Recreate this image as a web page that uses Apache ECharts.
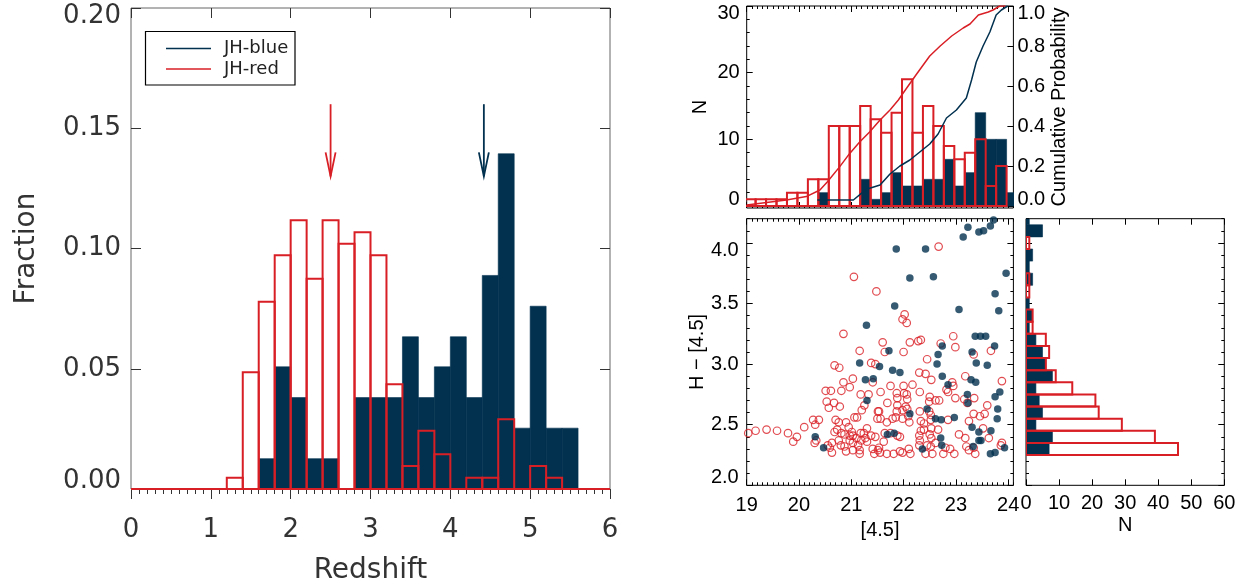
<!DOCTYPE html>
<html lang="en">
<head>
<meta charset="utf-8">
<title>JH-blue / JH-red: redshift, [4.5] and H-[4.5] distributions</title>
<script src="https://cdn.jsdelivr.net/npm/echarts@6.0.0/dist/echarts.min.js"></script>
<style>
  html, body { margin: 0; padding: 0; background: #fff; }
  #main { width: 1243px; height: 585px; }
</style>
</head>
<body>
<div id="main"></div>
<script>
// ---------- data ----------

// left panel: redshift histograms (left edge of each 0.2 bin, fraction in the bin)
var zEdges = [1.2, 1.4, 1.6, 1.8, 2.0, 2.2, 2.4, 2.6, 2.8, 3.0, 3.2, 3.4, 3.6, 3.8, 4.0, 4.2, 4.4, 4.6, 4.8, 5.0, 5.2, 5.4];
var zFracRed = [0.0047, 0.0485, 0.0779, 0.0972, 0.1117, 0.0874, 0.1117, 0.1020, 0.1068, 0.0972, 0.0436,
                0.0096, 0.0242, 0.0144, 0, 0.0047, 0.0047, 0.0290, 0, 0.0096, 0.0047, 0];
var zFracBlue = [0, 0, 0.0126, 0.0508, 0.0380, 0.0126, 0.0126, 0, 0.0380, 0.0380, 0.0380,
                 0.0633, 0.0380, 0.0508, 0.0633, 0.0380, 0.0888, 0.1394, 0.0253, 0.0760, 0.0253, 0.0253];
// median redshift arrows: [redshift, from, to]
var arrowRed = [2.5, 0.16, 0.13];
var arrowBlue = [4.42, 0.16, 0.13];

// top right: [4.5] histograms (left edge of each 0.2 mag bin, counts)
var magEdges = [18.97, 19.17, 19.37, 19.57, 19.77, 19.97, 20.17, 20.37, 20.57, 20.77, 20.97, 21.17, 21.37,
                21.57, 21.77, 21.97, 22.17, 22.37, 22.57, 22.77, 22.97, 23.17, 23.37, 23.57, 23.77, 23.97];
var magRed  = [1, 1, 1, 1, 2, 2, 4, 4, 12, 12, 12, 15, 13, 11, 14, 19, 11, 15, 12, 9, 7, 8, 10, 3, 6, 0];
var magBlue = [0, 0, 0, 0, 0, 0, 0, 2, 0, 0, 0, 4, 1, 2, 5, 3, 3, 4, 4, 7, 3, 5, 14, 10, 10, 2];
// cumulative probability curves
var cumRed = [[19.0, 0.005], [19.76, 0.03], [20.14, 0.047], [20.40, 0.08], [20.54, 0.12], [20.78, 0.197],
              [20.97, 0.263], [21.16, 0.32], [21.35, 0.37], [21.55, 0.43], [21.74, 0.48], [21.90, 0.53],
              [22.06, 0.59], [22.25, 0.66], [22.50, 0.75], [22.70, 0.80], [22.92, 0.85], [23.14, 0.89],
              [23.27, 0.91], [23.43, 0.955], [23.62, 0.97], [23.71, 0.98], [23.84, 1.0], [23.95, 1.0]];
var cumBlue = [[20.35, 0.03], [21.04, 0.03], [21.29, 0.084], [21.55, 0.105], [21.74, 0.16], [21.93, 0.20],
               [22.12, 0.23], [22.31, 0.27], [22.50, 0.31], [22.66, 0.36], [22.82, 0.44], [23.01, 0.48],
               [23.20, 0.54], [23.30, 0.63], [23.39, 0.72], [23.52, 0.80], [23.65, 0.87], [23.77, 0.955],
               [23.87, 0.98], [23.99, 1.0]];

// scatter: [[4.5], H-[4.5]]
var pointsRed = [
  [21.05, 3.72], [21.48, 3.60], [20.85, 3.25], [21.16, 3.11],
  [22.67, 3.97], [22.02, 3.41], [21.98, 3.37], [22.06, 3.34], [21.60, 3.18], [22.12, 3.18], [22.28, 3.19],
  [22.33, 3.20], [22.71, 3.17], [22.95, 3.23], [22.99, 3.14], [22.00, 3.10], [21.64, 3.10], [23.67, 3.11],
  [23.34, 3.08],
  [20.68, 2.99], [20.77, 2.97], [21.38, 3.01], [21.46, 3.00], [20.85, 2.85], [21.03, 2.88], [21.41, 2.85],
  [20.97, 2.81], [20.81, 2.78], [20.51, 2.78], [20.61, 2.78], [21.18, 2.75], [21.33, 2.75], [20.53, 2.69],
  [20.67, 2.68], [20.57, 2.64], [20.78, 2.65], [21.25, 2.66], [21.20, 2.62], [21.51, 2.61], [21.11, 2.56],
  [21.50, 2.55], [20.27, 2.54], [20.38, 2.54], [20.70, 2.54], [20.76, 2.52], [20.90, 2.52], [20.31, 2.50],
  [21.06, 2.56], [20.10, 2.48], [19.03, 2.43], [19.17, 2.45], [19.38, 2.46], [19.58, 2.45], [19.79, 2.43],
  [19.96, 2.40], [19.89, 2.36], [20.68, 2.44], [20.73, 2.46], [20.81, 2.43], [20.87, 2.42], [20.95, 2.48],
  [21.01, 2.44], [20.97, 2.41], [21.03, 2.41], [21.18, 2.43], [21.24, 2.43], [21.30, 2.47], [21.38, 2.41],
  [21.46, 2.40], [21.10, 2.39], [21.19, 2.37], [21.27, 2.39], [21.30, 2.36], [20.30, 2.35], [20.33, 2.37],
  [20.55, 2.33], [20.63, 2.35], [20.76, 2.37], [20.59, 2.31], [20.80, 2.33], [20.87, 2.32], [21.03, 2.35],
  [21.13, 2.33], [20.90, 2.28], [21.03, 2.29], [21.16, 2.29], [21.16, 2.26], [20.63, 2.27], [21.41, 2.30],
  [21.44, 2.26], [21.51, 2.29], [20.97, 2.37],
  [22.45, 3.04], [22.30, 2.93], [22.42, 2.92], [22.53, 2.87], [23.18, 2.90], [23.88, 2.86], [21.75, 2.82],
  [22.00, 2.82], [22.17, 2.83], [22.93, 2.85], [22.95, 2.82], [22.82, 2.79], [22.85, 2.77], [21.56, 2.77],
  [21.87, 2.76], [22.01, 2.76], [22.06, 2.75], [22.31, 2.77], [21.88, 2.72], [22.07, 2.71], [22.50, 2.73],
  [22.49, 2.69], [22.61, 2.70], [22.68, 2.70], [22.99, 2.72], [23.16, 2.71], [23.22, 2.68], [23.35, 2.72],
  [23.60, 2.66], [21.69, 2.68], [21.88, 2.66], [22.04, 2.65], [22.07, 2.63], [21.53, 2.61], [21.87, 2.61],
  [21.98, 2.62], [22.31, 2.61], [22.49, 2.61], [22.52, 2.58], [21.56, 2.55], [21.68, 2.52], [21.79, 2.55],
  [21.85, 2.56], [21.98, 2.55], [22.09, 2.57], [22.11, 2.52], [22.33, 2.53], [22.39, 2.51], [22.52, 2.54],
  [22.85, 2.54], [23.25, 2.53], [23.34, 2.59], [23.46, 2.57], [23.55, 2.59], [23.52, 2.47], [22.53, 2.47],
  [22.66, 2.46], [23.06, 2.42], [22.33, 2.45], [22.39, 2.46], [21.64, 2.43], [21.75, 2.43], [21.88, 2.41],
  [21.93, 2.40], [22.30, 2.41], [22.31, 2.37], [22.30, 2.33], [22.50, 2.42], [22.53, 2.39], [21.62, 2.36],
  [23.18, 2.39], [23.63, 2.39], [23.88, 2.35], [23.86, 2.33], [22.45, 2.33], [22.52, 2.32], [22.61, 2.35],
  [22.80, 2.31], [22.89, 2.30], [23.20, 2.32], [23.25, 2.29], [23.34, 2.31], [21.53, 2.31], [21.55, 2.27],
  [21.68, 2.26], [21.81, 2.26], [21.93, 2.28], [21.98, 2.27], [22.10, 2.30], [22.13, 2.26], [22.42, 2.26],
  [22.55, 2.26], [22.76, 2.26], [22.97, 2.26], [23.37, 2.26]
];
var pointsBlue = [
  [21.29, 3.32],
  [23.72, 4.19], [23.23, 4.13], [23.14, 4.05], [23.44, 4.09], [23.53, 4.10], [23.66, 4.14], [21.86, 3.95],
  [22.42, 3.95], [22.12, 3.71], [22.57, 3.72], [23.96, 3.75], [23.75, 3.58], [21.83, 3.48], [23.06, 3.45],
  [23.82, 3.44], [23.37, 3.23], [23.47, 3.23], [23.57, 3.23], [23.74, 3.15], [21.72, 3.11], [22.74, 3.15],
  [22.66, 3.08], [23.31, 3.10],
  [21.16, 3.01], [21.27, 2.87], [21.42, 2.88], [21.30, 2.70], [21.54, 2.98], [20.31, 2.40], [20.47, 2.31],
  [22.64, 3.00], [23.39, 3.01], [23.60, 2.99], [21.79, 2.95], [21.93, 2.93], [22.74, 2.90], [23.29, 2.87],
  [23.38, 2.85], [22.85, 2.83], [23.84, 2.77], [23.75, 2.73], [23.22, 2.75], [23.23, 2.68], [23.80, 2.63],
  [22.45, 2.63], [22.12, 2.59], [22.97, 2.56], [22.61, 2.55], [22.72, 2.54], [23.79, 2.55], [23.31, 2.48],
  [23.44, 2.44], [23.67, 2.45], [21.69, 2.42], [21.82, 2.43], [22.71, 2.39], [23.44, 2.37], [23.48, 2.37],
  [22.73, 2.33], [23.33, 2.32], [22.36, 2.30], [23.93, 2.31], [23.66, 2.26], [23.75, 2.27]
];

// right: H-[4.5] histograms (lower edge of each 0.1 bin, counts)
var colourEdges = [2.25, 2.35, 2.45, 2.55, 2.65, 2.75, 2.85, 2.95, 3.05, 3.15, 3.25, 3.35, 3.45, 3.55, 3.65,
                   3.75, 3.85, 3.95, 4.05, 4.15];
var colourRed  = [46, 39, 29, 22, 21, 14, 9, 6, 7, 6, 2, 2, 0, 1, 1, 0, 0, 1, 0, 0];
var colourBlue = [7, 8, 3, 5, 4, 3, 8, 6, 5, 3, 1, 2, 1, 0, 2, 1, 2, 0, 5, 1];

// tick labels
var zTicks = [0, 1, 2, 3, 4, 5, 6];
var fracTicks = [0, 0.05, 0.10, 0.15, 0.20];
var magTicks = [19, 20, 21, 22, 23, 24];
var nTicks = [0, 10, 20, 30];
var nMinor = [2, 4, 6, 8, 12, 14, 16, 18, 22, 24, 26, 28];
var probTicks = [0, 0.2, 0.4, 0.6, 0.8, 1.0];
var colourTicks = [2.0, 2.5, 3.0, 3.5, 4.0];
var countTicks = [0, 10, 20, 30, 40, 50, 60];

// ---------- styling ----------
var NAVY = '#02314f';
var RED = '#d91f26';
var DEJAVU = '"DejaVu Sans", sans-serif';
var ARIAL = '"Liberation Sans", Arial, sans-serif';

function steps(a, b, d) {
  var out = [], n = Math.round((b - a) / d);
  for (var i = 0; i <= n; i++) out.push(+(a + i * d).toFixed(4));
  return out;
}
function minorOnly(all, major) {
  return all.filter(function (v) {
    return major.every(function (m) { return Math.abs(m - v) > 1e-6; });
  });
}
var zMinor = minorOnly(steps(0, 6, 0.1), zTicks);
var magMinor = minorOnly(steps(19, 24.1, 0.1), magTicks);
var colourMinor = minorOnly(steps(2.0, 4.2, 0.1), colourTicks);

var xAxis = [], yAxis = [];
function addAxis(list, grid, pos, min, max, values, len, color, extra) {
  var a = {
    type: 'value', gridIndex: grid, position: pos, min: min, max: max,
    axisLine: { show: false, onZero: false },
    splitLine: { show: false },
    axisTick: { show: true, inside: len > 0, length: Math.abs(len), customValues: values,
                lineStyle: { color: color, width: 1 } },
    axisLabel: { show: false }
  };
  if (extra) Object.assign(a, extra);
  list.push(a);
  return list.length - 1;
}
function labels(values, font, size, color, margin, fmt) {
  return { show: true, customValues: values, fontFamily: font, fontSize: size, color: color,
           margin: margin, formatter: fmt };
}
// y labels: the end labels sit just inside the frame, as in the original
function yLabels(values, font, size, color, margin, fmt, lh) {
  var l = labels(values, font, size, color, margin, fmt);
  l.lineHeight = lh;
  l.verticalAlignMinLabel = 'bottom';
  l.verticalAlignMaxLabel = 'top';
  return l;
}
function title(text, gap, font, size, color, rotate) {
  return { name: text, nameLocation: 'middle', nameGap: gap, nameRotate: rotate || 0,
           nameTextStyle: { fontFamily: font, fontSize: size, color: color } };
}

// left panel (bottom ticks hang below the axis; negative length = outward)
var LX = addAxis(xAxis, 0, 'bottom', 0, 6, zTicks, -10, '#333', Object.assign(
  { axisLabel: labels(zTicks, DEJAVU, 26, '#333', 28) }, title('Redshift', 68, DEJAVU, 28, '#333')));
addAxis(xAxis, 0, 'bottom', 0, 6, zMinor, -5, '#333');
addAxis(xAxis, 0, 'top', 0, 6, zTicks, 10, '#333');
var LY = addAxis(yAxis, 0, 'left', 0, 0.2, fracTicks, 10, '#333', Object.assign(
  { axisLabel: yLabels(fracTicks, DEJAVU, 26, '#333', 10, function (v) { return v.toFixed(2); }, 16) },
  title('Fraction', 90, DEJAVU, 28, '#333', 90)));
addAxis(yAxis, 0, 'right', 0, 0.2, fracTicks, 10, '#333');

// top right panel
var TX = addAxis(xAxis, 1, 'bottom', 19, 24.1, magTicks, 6, '#000');
addAxis(xAxis, 1, 'bottom', 19, 24.1, magMinor, 3, '#000');
addAxis(xAxis, 1, 'top', 19, 24.1, magTicks, 6, '#000');
addAxis(xAxis, 1, 'top', 19, 24.1, magMinor, 3, '#000');
var TY = addAxis(yAxis, 1, 'left', -0.3, 30, nTicks, 6, '#000', Object.assign(
  { axisLabel: yLabels(nTicks, ARIAL, 20, '#000', 7, null, 14) }, title('N', 36, ARIAL, 20, '#000', 90)));
addAxis(yAxis, 1, 'left', -0.3, 30, nMinor, 3, '#000');
var TP = addAxis(yAxis, 1, 'right', -0.01, 1.0, probTicks, 6, '#000', Object.assign(
  { axisLabel: yLabels(probTicks, ARIAL, 20, '#000', 4, function (v) { return v.toFixed(1); }, 14) },
  title('Cumulative Probability', 32, ARIAL, 20, '#000', 90)));

// scatter panel
var SX = addAxis(xAxis, 2, 'bottom', 19, 24.1, magTicks, 6, '#000', Object.assign(
  { axisLabel: labels(magTicks, ARIAL, 20, '#000', 10) }, title('[4.5]', 35, ARIAL, 20, '#000')));
addAxis(xAxis, 2, 'bottom', 19, 24.1, magMinor, 3, '#000');
addAxis(xAxis, 2, 'top', 19, 24.1, magTicks, 6, '#000');
addAxis(xAxis, 2, 'top', 19, 24.1, magMinor, 3, '#000');
var SY = addAxis(yAxis, 2, 'left', 2.0, 4.2, colourTicks, 6, '#000', Object.assign(
  { axisLabel: yLabels(colourTicks, ARIAL, 20, '#000', 8, function (v) { return v.toFixed(1); }, 16) },
  title('H \u2212 [4.5]', 34, ARIAL, 20, '#000', 90)));
addAxis(yAxis, 2, 'left', 2.0, 4.2, colourMinor, 3, '#000');
addAxis(yAxis, 2, 'right', 2.0, 4.2, colourTicks, 6, '#000');
addAxis(yAxis, 2, 'right', 2.0, 4.2, colourMinor, 3, '#000');

// right panel
var RX = addAxis(xAxis, 3, 'bottom', 0, 60, countTicks, 6, '#000', Object.assign(
  { axisLabel: labels(countTicks, ARIAL, 20, '#000', 8) }, title('N', 30, ARIAL, 20, '#000')));
addAxis(xAxis, 3, 'top', 0, 60, countTicks, 6, '#000');
var RY = addAxis(yAxis, 3, 'left', 2.0, 4.2, colourTicks, 6, '#000');
addAxis(yAxis, 3, 'left', 2.0, 4.2, colourMinor, 3, '#000');
addAxis(yAxis, 3, 'right', 2.0, 4.2, colourTicks, 6, '#000');
addAxis(yAxis, 3, 'right', 2.0, 4.2, colourMinor, 3, '#000');

// ---------- bar renderers ----------
function columnBars(width, fill, stroke) {
  return function (params, api) {
    var x0 = api.value(0), v = api.value(1);
    if (!v) return null;
    var a = api.coord([x0, 0]), b = api.coord([x0 + width, v]);
    return { type: 'rect',
      shape: { x: a[0], y: b[1], width: b[0] - a[0], height: a[1] - b[1] },
      style: { fill: fill || 'none', stroke: stroke || fill, lineWidth: stroke ? 2 : 0.6 } };
  };
}
function rowBars(height, fill, stroke) {
  return function (params, api) {
    var v = api.value(0), y0 = api.value(1);
    if (!v) return null;
    var a = api.coord([0, y0]), b = api.coord([v, y0 + height]);
    return { type: 'rect',
      shape: { x: a[0], y: b[1], width: b[0] - a[0], height: a[1] - b[1] },
      style: { fill: fill || 'none', stroke: stroke || fill, lineWidth: stroke ? 2 : 0.6 } };
  };
}
function arrow(color) {
  return function (params, api) {
    var x = api.value(0);
    var top = api.coord([x, api.value(1)]), tip = api.coord([x, api.value(2)]);
    return { type: 'group', children: [
      { type: 'line', shape: { x1: top[0], y1: top[1], x2: tip[0], y2: tip[1] },
        style: { stroke: color, lineWidth: 1.8 } },
      { type: 'polyline',
        shape: { points: [[tip[0] - 5, tip[1] - 24], [tip[0], tip[1]], [tip[0] + 5, tip[1] - 24]] },
        style: { stroke: color, lineWidth: 1.8, fill: 'none' } }
    ] };
  };
}
function pairs(edges, values) { return edges.map(function (e, i) { return [e, values[i]]; }); }
function rows(edges, values) { return edges.map(function (e, i) { return [values[i], e]; }); }

var zW = +(zEdges[1] - zEdges[0]).toFixed(4);
var magW = +(magEdges[1] - magEdges[0]).toFixed(4);
var colourH = +(colourEdges[1] - colourEdges[0]).toFixed(4);

function panel(left, top, width, height, border) {
  return { left: left, top: top, width: width, height: height, outerBoundsMode: 'none',
           show: true, borderColor: border, borderWidth: 1, backgroundColor: 'transparent' };
}

var option = {
  animation: false,
  backgroundColor: '#fff',
  grid: [
    panel(131, 8, 479, 481, '#666'),
    panel(746.7, 6, 266.7, 202, '#000'),
    panel(746.7, 218.7, 266.7, 266.6, '#000'),
    panel(1026, 218.7, 198.3, 266.6, '#000')
  ],
  xAxis: xAxis,
  yAxis: yAxis,
  series: [
    { name: 'JH-blue z', type: 'custom', xAxisIndex: LX, yAxisIndex: LY, clip: true,
      data: pairs(zEdges, zFracBlue), renderItem: columnBars(zW, NAVY) },
    { name: 'JH-red z', type: 'custom', xAxisIndex: LX, yAxisIndex: LY, clip: true,
      data: pairs(zEdges, zFracRed), renderItem: columnBars(zW, null, RED),
      markLine: { silent: true, symbol: 'none', label: { show: false },
                  lineStyle: { color: RED, width: 2, type: 'solid' }, data: [{ yAxis: 0 }] } },
    { name: 'JH-red median', type: 'custom', xAxisIndex: LX, yAxisIndex: LY,
      data: [arrowRed], renderItem: arrow(RED) },
    { name: 'JH-blue median', type: 'custom', xAxisIndex: LX, yAxisIndex: LY,
      data: [arrowBlue], renderItem: arrow(NAVY) },

    { name: 'JH-blue [4.5]', type: 'custom', xAxisIndex: TX, yAxisIndex: TY, clip: true,
      data: pairs(magEdges, magBlue), renderItem: columnBars(magW, NAVY) },
    { name: 'JH-red [4.5]', type: 'custom', xAxisIndex: TX, yAxisIndex: TY, clip: true,
      data: pairs(magEdges, magRed), renderItem: columnBars(magW, null, RED) },
    { name: 'JH-red cumulative', type: 'line', xAxisIndex: TX, yAxisIndex: TP, data: cumRed,
      symbol: 'none', lineStyle: { color: RED, width: 1.5 } },
    { name: 'JH-blue cumulative', type: 'line', xAxisIndex: TX, yAxisIndex: TP, data: cumBlue,
      symbol: 'none', lineStyle: { color: NAVY, width: 1.5 } },

    { name: 'JH-red points', type: 'scatter', xAxisIndex: SX, yAxisIndex: SY, data: pointsRed,
      symbol: 'circle', symbolSize: 7.5,
      itemStyle: { color: 'transparent', borderColor: RED, borderWidth: 1.2 } },
    { name: 'JH-blue points', type: 'scatter', xAxisIndex: SX, yAxisIndex: SY, data: pointsBlue,
      symbol: 'circle', symbolSize: 7.5, itemStyle: { color: NAVY } },

    { name: 'JH-blue colour', type: 'custom', xAxisIndex: RX, yAxisIndex: RY, clip: true,
      encode: { x: 0, y: 1 }, data: rows(colourEdges, colourBlue), renderItem: rowBars(colourH, NAVY) },
    { name: 'JH-red colour', type: 'custom', xAxisIndex: RX, yAxisIndex: RY, clip: true,
      encode: { x: 0, y: 1 }, data: rows(colourEdges, colourRed), renderItem: rowBars(colourH, null, RED) }
  ],
  graphic: [
    { type: 'rect', z: 100, shape: { x: 145.5, y: 31.5, width: 149.5, height: 53.5 },
      style: { fill: '#fff', stroke: '#000', lineWidth: 1.2 } },
    { type: 'line', z: 101, shape: { x1: 166, y1: 48.5, x2: 211, y2: 48.5 },
      style: { stroke: NAVY, lineWidth: 1.6 } },
    { type: 'text', z: 101, x: 224, y: 48.5,
      style: { text: 'JH-blue', font: '18px "DejaVu Sans", sans-serif', fill: '#222', verticalAlign: 'middle' } },
    { type: 'line', z: 101, shape: { x1: 166, y1: 69, x2: 211, y2: 69 },
      style: { stroke: RED, lineWidth: 1.6 } },
    { type: 'text', z: 101, x: 224, y: 69,
      style: { text: 'JH-red', font: '18px "DejaVu Sans", sans-serif', fill: '#222', verticalAlign: 'middle' } }
  ]
};

var chart = echarts.init(document.getElementById('main'), null, { renderer: 'canvas', width: 1243, height: 585 });
chart.setOption(option);
</script>
</body>
</html>
